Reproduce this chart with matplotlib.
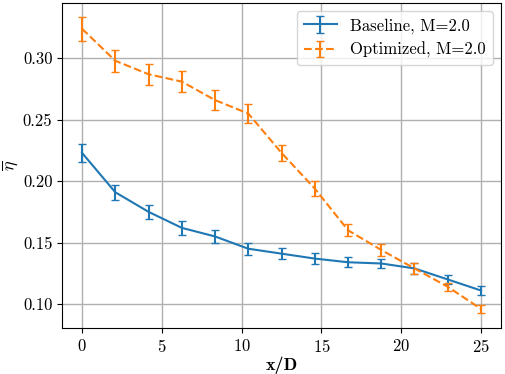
import numpy as np
import matplotlib
matplotlib.use("Agg")
import matplotlib.pyplot as plt

plt.rcParams['font.family'] = 'serif'
plt.rcParams['font.serif'] = ['cmr10']
plt.rcParams['mathtext.fontset'] = 'cm'
plt.rcParams['axes.formatter.use_mathtext'] = True

# данные
x_over_d = [0, 2.08, 4.17, 6.25, 8.33, 10.42, 12.5, 14.58, 16.67, 18.75, 20.83, 22.92, 25]
baseline = [0.223, 0.191, 0.175, 0.162, 0.155, 0.145, 0.141, 0.137, 0.134, 0.133, 0.129, 0.120, 0.111]
baseline_err = [0.007, 0.006, 0.0057, 0.0055, 0.005, 0.0047, 0.0045, 0.0045, 0.0042, 0.004, 0.0045, 0.004, 0.004]
optimized = [0.324, 0.298, 0.287, 0.281, 0.266, 0.255, 0.223, 0.194, 0.160, 0.144, 0.129, 0.114, 0.096]
optimized_err = [0.0098, 0.009, 0.0085, 0.0085, 0.0084, 0.0076, 0.0065, 0.0064, 0.005, 0.0045, 0.0045, 0.0034, 0.0034]

fig = plt.figure(figsize=(5.05, 3.74), dpi=100)
ax = fig.add_axes([0.123, 0.123, 0.869, 0.869])

ax.errorbar(x_over_d, baseline, yerr=baseline_err, color='#1f77b4', linestyle='-',
            capsize=3, linewidth=1.5, label='Baseline, M=2.0')
ax.errorbar(x_over_d, optimized, yerr=optimized_err, color='#ff7f0e', linestyle='--',
            capsize=3, linewidth=1.5, label='Optimized, M=2.0')

ax.set_xlim(-1.25, 26.25)
ax.set_ylim(0.0805, 0.345)
ax.set_xticks([0, 5, 10, 15, 20, 25])
ax.set_yticks([0.10, 0.15, 0.20, 0.25, 0.30])
ax.set_yticklabels(['0.10', '0.15', '0.20', '0.25', '0.30'])
ax.tick_params(labelsize=12)
ax.set_xlabel('x/D', fontsize=13, labelpad=1, family='cmb10')
ax.set_ylabel(r'$\overline{\eta}$', fontsize=13, labelpad=2)
ax.grid(True, color='#b0b0b0', linewidth=1.0)
ax.legend(loc='upper right', fontsize=12)

fig.savefig('out.png', dpi=100)
